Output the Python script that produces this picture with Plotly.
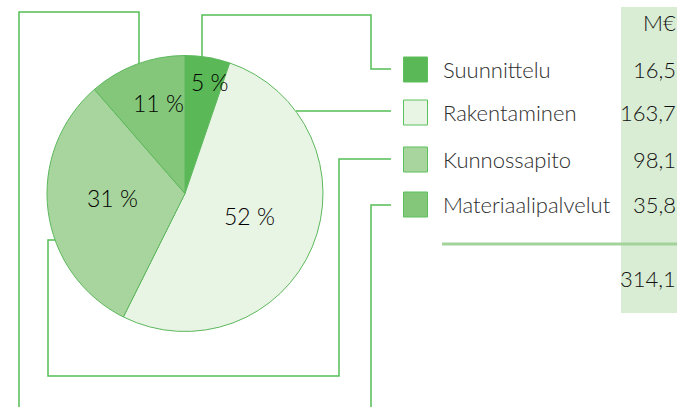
import plotly.graph_objects as go

# ---- data ----
categories = ["Suunnittelu", "Rakentaminen", "Kunnossapito", "Materiaalipalvelut"]
values = [16.5, 163.7, 98.1, 35.8]
value_labels = ["16,5", "163,7", "98,1", "35,8"]
total_label = "314,1"
unit_label = "M€"

colors = ["#5ab856", "#e8f4e4", "#a8d59d", "#84c77b"]
line_green = "#55bd55"
W, H = 677, 407
FONT = "Lato"

def px(x):
    return x / W

def py(y):
    return 1 - y / H

total = sum(values)
pct_text = [f"{round(v / total * 100)} %" for v in values]

fig = go.Figure()
fig.add_trace(go.Pie(
    labels=categories,
    values=values,
    sort=False,
    direction="clockwise",
    rotation=0,
    marker=dict(colors=colors, line=dict(color="#5cb85c", width=1)),
    textinfo="none",
    hoverinfo="label+value+percent",
    domain=dict(x=[px(47), px(323)], y=[py(331.5), py(55.5)]),
))

shapes = []
# value column background
shapes.append(dict(type="rect", xref="paper", yref="paper",
                   x0=px(621), x1=px(680), y0=py(313), y1=py(7),
                   fillcolor="#d9ecd4", line=dict(width=0), layer="below"))
# separator line
shapes.append(dict(type="line", xref="paper", yref="paper",
                   x0=px(442), x1=px(680), y0=py(244), y1=py(244),
                   line=dict(color="#a3d39a", width=3)))

# connector paths (pixel coordinates converted to paper)
paths = [
    [(202, 56.5), (202, 15), (371, 15), (371, 69), (391, 69)],
    [(296, 111), (391, 111)],
    [(55, 240), (48, 240), (48, 376), (339, 376), (339, 159), (391, 159)],
    [(139, 63.5), (139, 12), (19, 12), (19, 430)],
    [(371, 430), (371, 205), (391, 205)],
]
for p in paths:
    d = "M " + " L ".join(f"{px(x):.5f},{py(y):.5f}" for x, y in p)
    shapes.append(dict(type="path", xref="paper", yref="paper", path=d,
                       line=dict(color=line_green, width=1.5)))

# legend squares
row_y = [69.5, 112.5, 159.5, 204.5]
for c, yc in zip(colors, row_y):
    shapes.append(dict(type="rect", xref="paper", yref="paper",
                       x0=px(403.5), x1=px(427.5), y0=py(yc + 12.5), y1=py(yc - 12.5),
                       fillcolor=c, line=dict(color="#5cc05c", width=1)))

name_font = dict(family=FONT, size=22, color="#2e2e2e", weight=300)
num_font = dict(family=FONT, size=22, color="#111111", weight=300)

annotations = []
for name, val, yc in zip(categories, value_labels, row_y):
    annotations.append(dict(x=px(441), y=py(yc), xref="paper", yref="paper",
                            text=name, showarrow=False, xanchor="left", yanchor="middle",
                            font=name_font))
    annotations.append(dict(x=px(678), y=py(yc), xref="paper", yref="paper",
                            text=val, showarrow=False, xanchor="right", yanchor="middle",
                            font=num_font))
annotations.append(dict(x=px(678), y=py(23), xref="paper", yref="paper",
                        text=unit_label, showarrow=False, xanchor="right", yanchor="middle",
                        font=num_font))
annotations.append(dict(x=px(678), y=py(278), xref="paper", yref="paper",
                        text=total_label, showarrow=False, xanchor="right", yanchor="middle",
                        font=num_font))

# pie percentage labels
label_pos = [(210, 82), (249, 216), (113, 198), (158, 103)]
for t, (x, y) in zip(pct_text, label_pos):
    annotations.append(dict(x=px(x), y=py(y), xref="paper", yref="paper",
                            text=t, showarrow=False, xanchor="center", yanchor="middle",
                            font=dict(family=FONT, size=23, color="#000000", weight=300)))

fig.update_layout(
    width=W, height=H,
    margin=dict(l=0, r=0, t=0, b=0),
    showlegend=False,
    paper_bgcolor="white",
    plot_bgcolor="white",
    shapes=shapes,
    annotations=annotations,
)

fig.write_html("out.html", config={"displayModeBar": False},
               post_script="document.body.style.margin='0';document.body.style.overflow='hidden';")
